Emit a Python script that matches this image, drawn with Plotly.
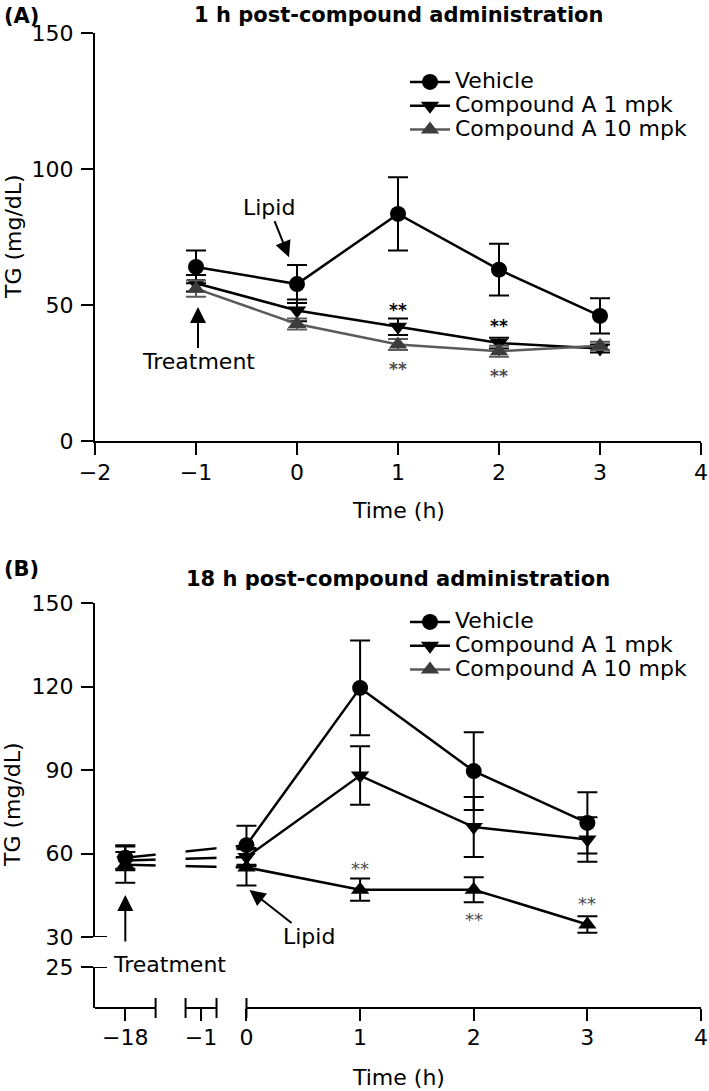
import plotly.graph_objects as go

# ---------------- data ----------------
# Panel A: 1 h post-compound administration
time_a = [-1, 0, 1, 2, 3]
veh_a = [64, 57.7, 83.5, 63, 46]
veh_a_err = [6, 7, 13.5, 9.5, 6.5]
c1_a = [58, 48, 42, 36, 34]
c1_a_err = [3, 4, 3, 2, 1.5]
c10_a = [56, 43, 35.5, 33, 35]
c10_a_err = [3, 2, 2, 2, 1.5]
stars_a_c1 = [1, 2]      # ** above Compound A 1 mpk
stars_a_c10 = [1, 2]     # ** below Compound A 10 mpk

# Panel B: 18 h post-compound administration
time_b = [-18, 0, 1, 2, 3]
veh_b = [58.5, 63, 119.5, 89.6, 71]
veh_b_err = [4.5, 7, 17, 14, 11]
c1_b = [57.5, 58.7, 88, 69.5, 65]
c1_b_err = [3, 3.3, 10.5, 10.8, 8]
c10_b = [56, 55, 47, 47, 34.5]
c10_b_err = [6.5, 6.5, 4, 4.5, 3]
stars_b_above = [1, 3]   # ** above Compound A 10 mpk
stars_b_below = [2]      # ** below Compound A 10 mpk

names = ["Vehicle", "Compound A 1 mpk", "Compound A 10 mpk"]
x_ticks_a = [-2, -1, 0, 1, 2, 3, 4]
y_ticks_a = [0, 50, 100, 150]
x_ticks_b = [-18, -1, 0, 1, 2, 3, 4]
y_ticks_b = [30, 60, 90, 120, 150]
y_ticks_b_low = [25]

# ---------------- layout helpers ----------------
W, H = 709, 1091
ML, MR, MT, MB = 95, 8, 33, 83
PW, PH = W - ML - MR, H - MT - MB


def px_x(p):
    return (p - ML) / PW


def px_y(p):
    return (H - MB - p) / PH


FONT = "DejaVu Sans"
BLACK = "#000000"
GRAY_LINE = "#5a5a5a"
GRAY_MARK = "#3c3c3c"
STAR_GRAY = "#4a4a4a"

# broken x axis of panel B: (data range) -> (display range)
SEGMENTS_B = [((-19, -17), (-1.333, -0.7996)),
              ((-1.5, -0.5), (-0.536, -0.2636)),
              ((0, 4), (0, 4))]


def xb(t):
    for (d0, d1), (p0, p1) in SEGMENTS_B:
        if d0 <= t <= d1:
            return p0 + (t - d0) * (p1 - p0) / (d1 - d0)
    raise ValueError(t)


def minus(v):
    return str(v).replace("-", "\u2212")


def leg(name):
    return '<span style="font-size:22px">' + name + '</span>'


def series(x, y, err, name, symbol, lcol, mcol, xa, ya, legend, showlegend=True):
    return go.Scatter(
        x=x, y=y, mode="lines+markers", name=leg(name),
        line=dict(color=lcol, width=2.5),
        marker=dict(symbol=symbol, size=16, color=mcol),
        error_y=dict(type="data", array=err, color=lcol, thickness=2, width=10),
        xaxis=xa, yaxis=ya, legend=legend, showlegend=showlegend, cliponaxis=False,
    )


fig = go.Figure()

# Panel A
fig.add_trace(series(time_a, veh_a, veh_a_err, names[0], "circle", BLACK, BLACK, "x", "y", "legend"))
fig.add_trace(series(time_a, c1_a, c1_a_err, names[1], "triangle-down", BLACK, BLACK, "x", "y", "legend"))
fig.add_trace(series(time_a, c10_a, c10_a_err, names[2], "triangle-up", GRAY_LINE, GRAY_MARK, "x", "y", "legend"))

# Panel B
xb_vals = [xb(t) for t in time_b]
fig.add_trace(series(xb_vals, veh_b, veh_b_err, names[0], "circle", BLACK, BLACK, "x2", "y2", "legend2"))
fig.add_trace(series(xb_vals, c1_b, c1_b_err, names[1], "triangle-down", BLACK, BLACK, "x2", "y2", "legend2"))
fig.add_trace(series(xb_vals, c10_b, c10_b_err, names[2], "triangle-up", BLACK, BLACK, "x2", "y2", "legend2",
                     showlegend=False))
# legend entry for panel B 10 mpk (grey in legend)
fig.add_trace(go.Scatter(x=[None], y=[None], mode="lines+markers", name=leg(names[2]),
                         line=dict(color=GRAY_LINE, width=2.5),
                         marker=dict(symbol="triangle-up", size=16, color=GRAY_MARK),
                         xaxis="x2", yaxis="y2", legend="legend2"))

tickfont = dict(family=FONT, size=22, color=BLACK)
axis_common = dict(showgrid=False, zeroline=False, showline=True, linecolor=BLACK, linewidth=2,
                   ticks="outside", ticklen=12, tickwidth=2, tickcolor=BLACK, tickfont=tickfont,
                   ticklabeloverflow="allow")

legend_common = dict(xanchor="left", yanchor="top", font=dict(family=FONT, size=16, color=BLACK),
                     bgcolor="rgba(0,0,0,0)", tracegroupgap=0, traceorder="normal", itemwidth=40)

fig.update_layout(
    width=W, height=H, paper_bgcolor="white", plot_bgcolor="white",
    margin=dict(l=ML, r=MR, t=MT, b=MB, autoexpand=False),
    font=dict(family=FONT, color=BLACK),
    xaxis=dict(axis_common, domain=[0, 1], anchor="y", range=[-2, 4],
               tickvals=x_ticks_a, ticktext=[minus(v) for v in x_ticks_a], ticklabelstandoff=-1),
    yaxis=dict(axis_common, domain=[px_y(441), px_y(33)], anchor="x", range=[0, 150],
               tickvals=y_ticks_a, ticktext=[str(v) for v in y_ticks_a], ticklabelstandoff=3),
    xaxis2=dict(axis_common, showline=False, domain=[0, 1], anchor="y3", range=[-1.333, 4],
                tickvals=[xb(t) for t in x_ticks_b], ticktext=[minus(v) for v in x_ticks_b],
                ticklabelstandoff=-2),
    yaxis2=dict(axis_common, domain=[px_y(937), px_y(603)], anchor="x2", range=[30, 150],
                tickvals=y_ticks_b, ticktext=[str(v) for v in y_ticks_b], ticklabelstandoff=3),
    yaxis3=dict(axis_common, domain=[0, px_y(967)], anchor="x2", range=[0, 25],
                tickvals=y_ticks_b_low, ticktext=[str(v) for v in y_ticks_b_low], ticklabelstandoff=3),
    legend=dict(legend_common, x=px_x(405), y=px_y(65)),
    legend2=dict(legend_common, x=px_x(405), y=px_y(605)),
    showlegend=True,
)

# ---------------- shapes: broken axes of panel B ----------------
shapes = []
# masks hiding connecting lines inside the axis gaps
gaps = [(SEGMENTS_B[0][1][1], SEGMENTS_B[1][1][0]), (SEGMENTS_B[1][1][1], -0.095)]
for g0, g1 in gaps:
    shapes.append(dict(type="rect", xref="x2", yref="y2", x0=g0, x1=g1, y0=38, y1=78,
                       fillcolor="white", line=dict(width=0), layer="above"))
for i, (_, (p0, p1)) in enumerate(SEGMENTS_B):
    shapes.append(dict(type="line", xref="x2", yref="paper", x0=p0, x1=p1, y0=0, y1=0,
                       line=dict(color=BLACK, width=2), layer="above"))
    ends = []
    if i > 0:
        ends.append(p0)
    if i < len(SEGMENTS_B) - 1:
        ends.append(p1)
    for p in ends:
        shapes.append(dict(type="line", xref="x2", yref="paper", x0=p, x1=p,
                           ysizemode="pixel", yanchor=0, y0=-10, y1=10,
                           line=dict(color=BLACK, width=2), layer="above"))
for ya, yv in (("y2", 30), ("y3", 25)):
    shapes.append(dict(type="line", xref="paper", yref=ya, xsizemode="pixel", xanchor=0,
                       x0=-12, x1=12, y0=yv, y1=yv, line=dict(color=BLACK, width=2), layer="above"))
fig.update_layout(shapes=shapes)

# ---------------- annotations ----------------
ann = []
txt = dict(family=FONT, size=22, color=BLACK)
titlefont = dict(family=FONT, size=21, color=BLACK)
# panel labels and titles
ann.append(dict(xref="paper", yref="paper", x=px_x(2), y=px_y(16), xanchor="left", yanchor="middle",
                text="<b>(A)</b>", showarrow=False, font=titlefont))
ann.append(dict(xref="paper", yref="paper", x=px_x(2), y=px_y(569), xanchor="left", yanchor="middle",
                text="<b>(B)</b>", showarrow=False, font=titlefont))
ann.append(dict(xref="paper", yref="paper", x=0.5, y=px_y(15), xanchor="center", yanchor="middle",
                text="<b>1 h post-compound administration</b>", showarrow=False, font=titlefont))
ann.append(dict(xref="paper", yref="paper", x=0.5, y=px_y(579), xanchor="center", yanchor="middle",
                text="<b>18 h post-compound administration</b>", showarrow=False, font=titlefont))
# axis titles
ann.append(dict(xref="paper", yref="paper", x=0.5, y=px_y(510), xanchor="center", yanchor="middle",
                text="Time (h)", showarrow=False, font=txt))
ann.append(dict(xref="paper", yref="paper", x=0.5, y=px_y(1077), xanchor="center", yanchor="middle",
                text="Time (h)", showarrow=False, font=txt))
ann.append(dict(xref="paper", yref="paper", x=px_x(13), y=px_y(237), xanchor="center", yanchor="middle",
                text="TG (mg/dL)", textangle=-90, showarrow=False, font=txt))
ann.append(dict(xref="paper", yref="paper", x=px_x(13), y=px_y(805), xanchor="center", yanchor="middle",
                text="TG (mg/dL)", textangle=-90, showarrow=False, font=txt))

arrow = dict(showarrow=True, arrowhead=2, arrowsize=1.6, arrowwidth=2, arrowcolor=BLACK, font=txt)
# panel A arrows
ann.append(dict(arrow, xref="x", yref="y", x=0, y=67.6, xshift=-8, ax=-20, ay=-50, text="Lipid"))
ann.append(dict(arrow, xref="x", yref="y", x=-1, y=49.3, xshift=2, ax=0, ay=55, text="Treatment"))
# panel B arrows
ann.append(dict(arrow, xref="x2", yref="y2", x=xb(-18), y=45.1, ax=0, ay=48, text=""))
ann.append(dict(xref="x2", yref="y2", x=xb(-18), y=45.1, xshift=-14, yshift=-70, xanchor="left",
                yanchor="middle", text="Treatment", showarrow=False, font=txt))
ann.append(dict(arrow, xref="x2", yref="y2", x=0, y=46.9, xshift=3, ax=60, ay=47, text="Lipid"))

# significance stars
for t in stars_a_c1:
    ann.append(dict(xref="x", yref="y", x=t, y=c1_a[time_a.index(t)], yshift=17, text="<b>**</b>",
                    showarrow=False, font=dict(family=FONT, size=17, color=BLACK)))
for t in stars_a_c10:
    ann.append(dict(xref="x", yref="y", x=t, y=c10_a[time_a.index(t)], yshift=-25, text="<b>**</b>",
                    showarrow=False, font=dict(family=FONT, size=17, color=STAR_GRAY)))
for t in stars_b_above:
    ann.append(dict(xref="x2", yref="y2", x=xb(t), y=c10_b[time_b.index(t)], yshift=21, text="**",
                    showarrow=False, font=dict(family=FONT, size=18, color=STAR_GRAY)))
for t in stars_b_below:
    ann.append(dict(xref="x2", yref="y2", x=xb(t), y=c10_b[time_b.index(t)], yshift=-30, text="**",
                    showarrow=False, font=dict(family=FONT, size=18, color=STAR_GRAY)))

fig.update_layout(annotations=ann)

fig.write_html("out.html", config={"displayModeBar": False},
               post_script="document.body.style.margin='0';document.body.style.padding='0';")
